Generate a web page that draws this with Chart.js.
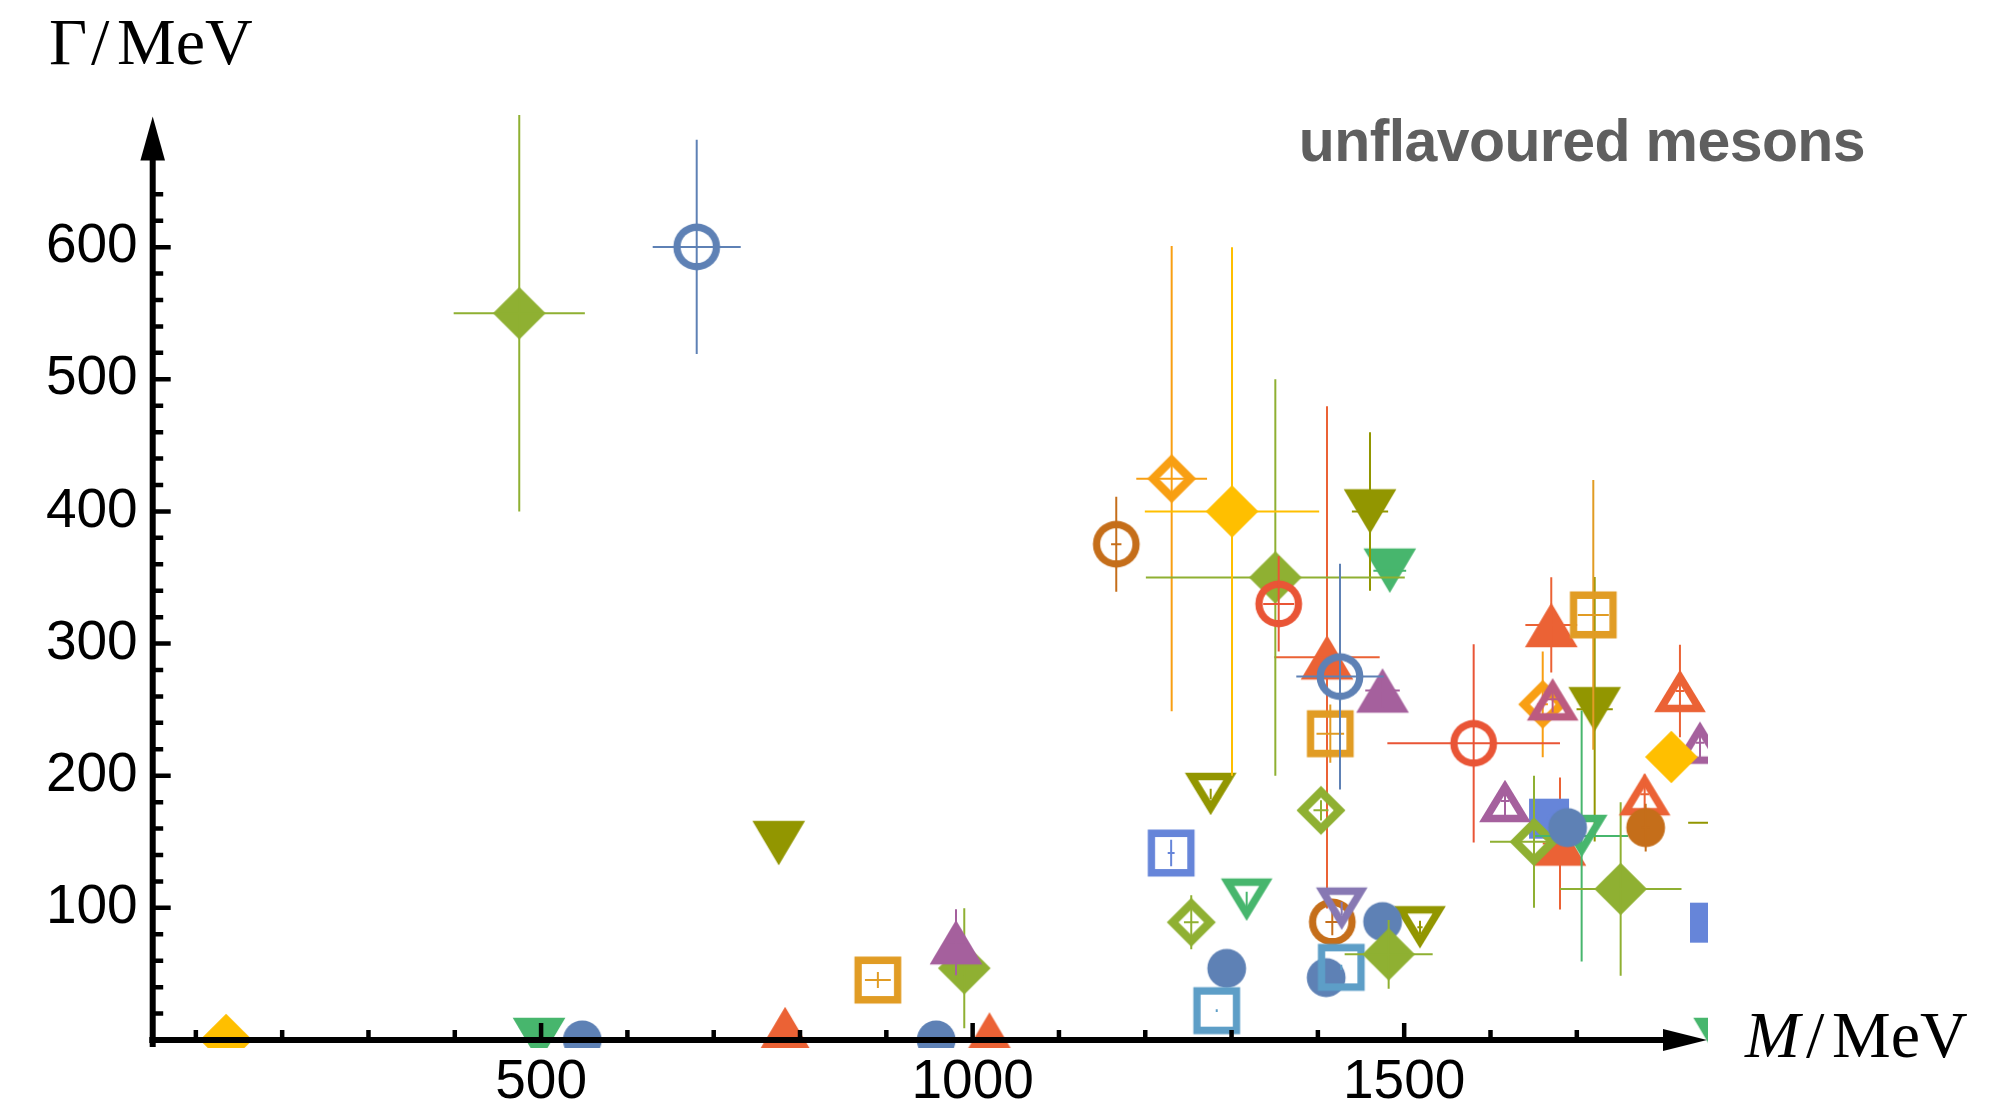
<!DOCTYPE html>
<html>
<head>
<meta charset="utf-8">
<title>unflavoured mesons</title>
<script src="https://cdn.jsdelivr.net/npm/chart.js@4.4.1/dist/chart.umd.min.js"></script>
<style>
  html, body { margin: 0; padding: 0; background: #ffffff; }
  canvas { display: block; }
</style>
</head>
<body>
<canvas id="chart" width="2008" height="1112"></canvas>
<script>
// Each row: [mass M, width Γ, ±ΔM, ±ΔΓ] in MeV (0 = no error bar drawn)
const redTriangles = [
  [782.7, 8.3, 0, 0],
  [1019.5, 4.2, 0, 0],
  [1410.6, 289.6, 61, 190],
  [1670.4, 314.1, 30, 36],
  [1680.5, 148.7, 20, 50]
];
const blueBoxes = [
  [1667.8, 167.5, 3, 3],
  [1854.3, 88.8, 7, 4]
];
const greenDownTriangles = [
  [497.6, 0, 0, 0],
  [1483.3, 355.2, 19, 0],
  [1865.5, 0, 0, 0]
];
const oliveDownTriangles = [
  [775.3, 149, 0, 0],
  [1460.4, 400, 21, 60],
  [1720.7, 250.3, 21, 100],
  [1890, 164.5, 61, 0]
];
const orangeFrames = [
  [890.2, 45.4, 15, 6],
  [1414.4, 231.8, 16, 22],
  [1719.1, 321.7, 18, 102]
];
const orangeOpenDiamonds = [
  [1230.6, 424.8, 41, 176],
  [1660.5, 254, 6, 40]
];
const pinkOpenTriangles = [
  [1672, 257.8, 8, 10]
];
const greenOpenDiamonds = [
  [1253.3, 89.1, 8.5, 20.5],
  [1403.6, 173.8, 8.7, 7.6],
  [1650.4, 150, 51, 50]
];
const greenOpenDown = [
  [1317.5, 106.2, 1, 6],
  [1705.6, 154.4, 54, 95]
];
const oliveOpenDown = [
  [1275.8, 186.2, 1, 4],
  [1518.3, 85.3, 3, 5]
];
const brownRings = [
  [1166.4, 375.2, 6, 36],
  [1416.7, 89.3, 8, 10]
];
const purpleOpenDown = [
  [1427.6, 99.4, 1.5, 5]
];
const blueDisks = [
  [547.7, 0, 0, 0],
  [957.7, 0, 0, 0],
  [1294.4, 54.2, 0, 0],
  [1409.6, 47.2, 0, 0],
  [1475, 89.6, 0, 0],
  [1689.3, 160.7, 0, 0]
];
const lightBlueFrames = [
  [1282.8, 22.2, 1, 1],
  [1427.1, 55, 1, 2]
];
const greenDiamonds = [
  [474.7, 550, 76, 150],
  [990.3, 54.3, 0, 45.4],
  [1350.7, 350, 150, 150],
  [1482, 64.8, 51, 26],
  [1750.8, 114.3, 70.5, 65.6]
];
const purpleTriangles = [
  [980.7, 74, 13, 25],
  [1474.9, 264.5, 20, 13]
];
const redRings = [
  [1354.6, 330, 18, 36],
  [1580.5, 224.5, 100, 75]
];
const blueRings = [
  [680.3, 600.2, 51, 81],
  [1425.6, 275, 50.6, 85.5]
];
const blueFrames = [
  [1230, 141.5, 4, 10]
];
const purpleOpenTriangles = [
  [1616.8, 180.9, 5, 11],
  [1842.7, 225, 5, 14]
];
const yellowDiamonds = [
  [135, 0, 0, 0],
  [1300.5, 400, 101, 200],
  [1809.5, 214.2, 0, 0]
];
const redOpenTriangles = [
  [1819.5, 264.2, 5, 35],
  [1778.6, 186, 5, 15]
];
const brownDisks = [
  [1779.8, 160.7, 5, 18]
];

// Axes
const massRange = [50, 1852];
const widthRange = [0, 700];
const massTicks = [500, 1000, 1500];
const widthTicks = [100, 200, 300, 400, 500, 600];
const massMinorStep = 100, massMinorLast = 1700;
const widthMinorStep = 20, widthMinorLast = 640;

// Series in drawing order (later ones sit on top)
const series = [
  { rows: redTriangles,        color: '#EB6235', shape: 'up',      open: false },
  { rows: blueBoxes,           color: '#6685D9', shape: 'square',  open: false },
  { rows: greenDownTriangles,  color: '#47B66D', shape: 'down',    open: false },
  { rows: oliveDownTriangles,  color: '#929600', shape: 'down',    open: false },
  { rows: orangeFrames,        color: '#E19C24', shape: 'square',  open: true  },
  { rows: orangeOpenDiamonds,  color: '#F89F13', shape: 'diamond', open: true  },
  { rows: pinkOpenTriangles,   color: '#BC5B80', shape: 'up',      open: true  },
  { rows: greenOpenDiamonds,   color: '#8FB032', shape: 'diamond', open: true  },
  { rows: greenOpenDown,       color: '#47B66D', shape: 'down',    open: true  },
  { rows: oliveOpenDown,       color: '#929600', shape: 'down',    open: true  },
  { rows: brownRings,          color: '#C56E1A', shape: 'circle',  open: true  },
  { rows: purpleOpenDown,      color: '#8778B3', shape: 'down',    open: true  },
  { rows: blueDisks,           color: '#5E81B5', shape: 'circle',  open: false },
  { rows: lightBlueFrames,     color: '#5D9EC7', shape: 'square',  open: true  },
  { rows: greenDiamonds,       color: '#8FB032', shape: 'diamond', open: false },
  { rows: purpleTriangles,     color: '#A5609D', shape: 'up',      open: false },
  { rows: redRings,            color: '#E95536', shape: 'circle',  open: true  },
  { rows: blueRings,           color: '#5E81B5', shape: 'circle',  open: true  },
  { rows: blueFrames,          color: '#6685D9', shape: 'square',  open: true  },
  { rows: purpleOpenTriangles, color: '#A5609D', shape: 'up',      open: true  },
  { rows: yellowDiamonds,      color: '#FFBF00', shape: 'diamond', open: false },
  { rows: redOpenTriangles,    color: '#EB6235', shape: 'up',      open: true  },
  { rows: brownDisks,          color: '#C56E1A', shape: 'circle',  open: false }
];

// ---- plot markers, drawn once into small canvases and used as point styles ----
function outline(shape, open) {
  if (shape === 'square') {
    const h = open ? 23.4 : 20;
    return { pts: [[-h, -h], [h, -h], [h, h], [-h, h]], c: [0, 0], rin: h, t: 7.3 };
  }
  if (shape === 'diamond') {
    const h = open ? 24.5 : 26.3;
    return { pts: [[0, -h], [h, 0], [0, h], [-h, 0]], c: [0, 0], rin: h / Math.SQRT2, t: 8.3 };
  }
  const w = open ? 51.7 : 52.7, ht = open ? 42.3 : 44.7;
  const s = shape === 'up' ? ht / 2 : -ht / 2;
  const side = Math.hypot(w / 2, ht);
  const rin = (w * ht) / (w + 2 * side);
  return { pts: [[0, -s], [w / 2, s], [-w / 2, s]], c: [0, s - Math.sign(s) * rin], rin, t: 7.5 };
}

function fillPoly(g, pts) {
  g.beginPath();
  pts.forEach(([x, y], i) => (i ? g.lineTo(x, y) : g.moveTo(x, y)));
  g.closePath();
  g.fill();
}

function markerImage(shape, open, color) {
  const size = 64;
  const c = document.createElement('canvas');
  c.width = size; c.height = size;
  const g = c.getContext('2d');
  g.translate(size / 2, size / 2);
  g.fillStyle = color;
  if (shape === 'circle') {
    g.beginPath(); g.arc(0, 0, open ? 23.4 : 19.4, 0, Math.PI * 2); g.fill();
    if (open) {
      g.globalCompositeOperation = 'destination-out';
      g.beginPath(); g.arc(0, 0, 16.1, 0, Math.PI * 2); g.fill();
    }
    return c;
  }
  const p = outline(shape, open);
  fillPoly(g, p.pts);
  if (open) {
    const k = (p.rin - p.t) / p.rin;
    g.globalCompositeOperation = 'destination-out';
    fillPoly(g, p.pts.map(([x, y]) => [p.c[0] + (x - p.c[0]) * k, p.c[1] + (y - p.c[1]) * k]));
  }
  return c;
}

// ---- error bars, drawn right after each series' markers ----
const errorBars = {
  id: 'errorBars',
  afterDatasetDraw(chart, args) {
    const s = series[args.index];
    const { ctx, chartArea: a, scales: { x, y } } = chart;
    ctx.save();
    ctx.beginPath();
    ctx.rect(a.left, a.top, a.right - a.left, a.bottom - a.top + 8);
    ctx.clip();
    ctx.strokeStyle = s.color;
    ctx.lineWidth = 2;
    ctx.beginPath();
    for (const [m, g, dm, dg] of s.rows) {
      const py = y.getPixelForValue(g), px = x.getPixelForValue(m);
      if (dm > 0) {
        ctx.moveTo(x.getPixelForValue(m - dm), py);
        ctx.lineTo(x.getPixelForValue(m + dm), py);
      }
      if (dg > 0) {
        ctx.moveTo(px, y.getPixelForValue(g - dg));
        ctx.lineTo(px, y.getPixelForValue(g + dg));
      }
    }
    ctx.stroke();
    ctx.restore();
  }
};

// ---- axes with arrows, inward ticks and the captions ----
const axesAndCaptions = {
  id: 'axesAndCaptions',
  afterDatasetsDraw(chart) {
    const { ctx, scales: { x, y } } = chart;
    const x0 = x.getPixelForValue(massRange[0]);
    const y0 = y.getPixelForValue(widthRange[0]);
    const yTip = y.getPixelForValue(widthRange[1]) + 1.5;
    const xTip = x.getPixelForValue(massRange[1]) - 1;
    const head = 44;
    ctx.save();
    ctx.strokeStyle = '#000';
    ctx.fillStyle = '#000';
    ctx.lineWidth = 6;
    ctx.beginPath();
    ctx.moveTo(x0, y0 + 7); ctx.lineTo(x0, yTip + head - 2);
    ctx.moveTo(x0 - 3.5, y0); ctx.lineTo(xTip - head + 2, y0);
    ctx.stroke();
    ctx.beginPath();
    ctx.moveTo(x0, yTip); ctx.lineTo(x0 + 12.3, yTip + head); ctx.lineTo(x0 - 12.3, yTip + head);
    ctx.closePath(); ctx.fill();
    ctx.beginPath();
    ctx.moveTo(xTip, y0); ctx.lineTo(xTip - head, y0 - 11); ctx.lineTo(xTip - head, y0 + 11);
    ctx.closePath(); ctx.fill();

    ctx.lineWidth = 4.5;
    ctx.beginPath();
    for (let m = massMinorStep; m <= massMinorLast; m += massMinorStep) {
      const px = x.getPixelForValue(m);
      const len = massTicks.includes(m) ? 17 : 10;
      ctx.moveTo(px, y0); ctx.lineTo(px, y0 - len);
    }
    for (let g = widthMinorStep; g <= widthMinorLast; g += widthMinorStep) {
      const py = y.getPixelForValue(g);
      const len = widthTicks.includes(g) ? 18 : 10.5;
      ctx.moveTo(x0, py); ctx.lineTo(x0 + len, py);
    }
    ctx.stroke();
    ctx.restore();
  },
  afterDraw(chart) {
    const ctx = chart.ctx;
    ctx.save();
    ctx.fillStyle = '#000';
    ctx.textAlign = 'left';
    ctx.textBaseline = 'alphabetic';
    ctx.font = '66px "Liberation Serif", "Times New Roman", serif';
    ctx.fillText('Γ', 49, 63.5);
    ctx.fillText('/', 91, 63.5);
    ctx.fillText('MeV', 117, 63.5);
    ctx.font = 'italic 66px "Liberation Serif", "Times New Roman", serif';
    ctx.fillText('M', 1745, 1057);
    ctx.font = '66px "Liberation Serif", "Times New Roman", serif';
    ctx.fillText('/', 1806, 1057);
    ctx.fillText('MeV', 1832, 1057);
    ctx.fillStyle = '#5f5f5f';
    ctx.textAlign = 'right';
    ctx.font = 'bold 59px "Liberation Sans", Arial, sans-serif';
    ctx.letterSpacing = '-0.6px';
    ctx.fillText('unflavoured mesons', 1865, 161);
    ctx.restore();
  }
};

const tickFont = { family: '"Liberation Sans", Arial, sans-serif', size: 55 };

function draw() {
  new Chart(document.getElementById('chart'), {
    type: 'scatter',
    data: {
      datasets: series.map((s, i) => ({
        data: s.rows.map(r => ({ x: r[0], y: r[1] })),
        pointStyle: markerImage(s.shape, s.open, s.color),
        pointRadius: 26,
        pointHoverRadius: 26,
        pointBorderWidth: 0,
        order: series.length - i,
        clip: { left: 0, top: 0, right: 0, bottom: 8 }
      }))
    },
    options: {
      responsive: false,
      animation: false,
      events: [],
      layout: { padding: { left: 0, top: 115, right: 300, bottom: 0 }, autoPadding: false },
      plugins: { legend: { display: false }, tooltip: { enabled: false } },
      scales: {
        x: {
          type: 'linear', position: 'bottom',
          min: massRange[0], max: massRange[1],
          grid: { display: false, drawTicks: false },
          border: { display: false },
          afterBuildTicks: s => { s.ticks = massTicks.map(v => ({ value: v })); },
          afterFit: s => { s.height = 72; },
          ticks: { padding: 10, font: tickFont, color: '#000', maxRotation: 0, autoSkip: false, callback: v => String(v) }
        },
        y: {
          type: 'linear', position: 'left',
          min: widthRange[0], max: widthRange[1],
          grid: { display: false, drawTicks: false },
          border: { display: false },
          afterBuildTicks: s => { s.ticks = widthTicks.map(v => ({ value: v })); },
          afterFit: s => { s.width = 152.7; },
          ticks: { padding: 15, font: tickFont, color: '#000', autoSkip: false, callback: v => String(v) }
        }
      }
    },
    plugins: [errorBars, axesAndCaptions]
  });
}

Promise.all([
  document.fonts.load('55px "Liberation Sans"'),
  document.fonts.load('bold 59px "Liberation Sans"'),
  document.fonts.load('66px "Liberation Serif"'),
  document.fonts.load('italic 66px "Liberation Serif"')
]).then(draw, draw);
</script>
</body>
</html>
